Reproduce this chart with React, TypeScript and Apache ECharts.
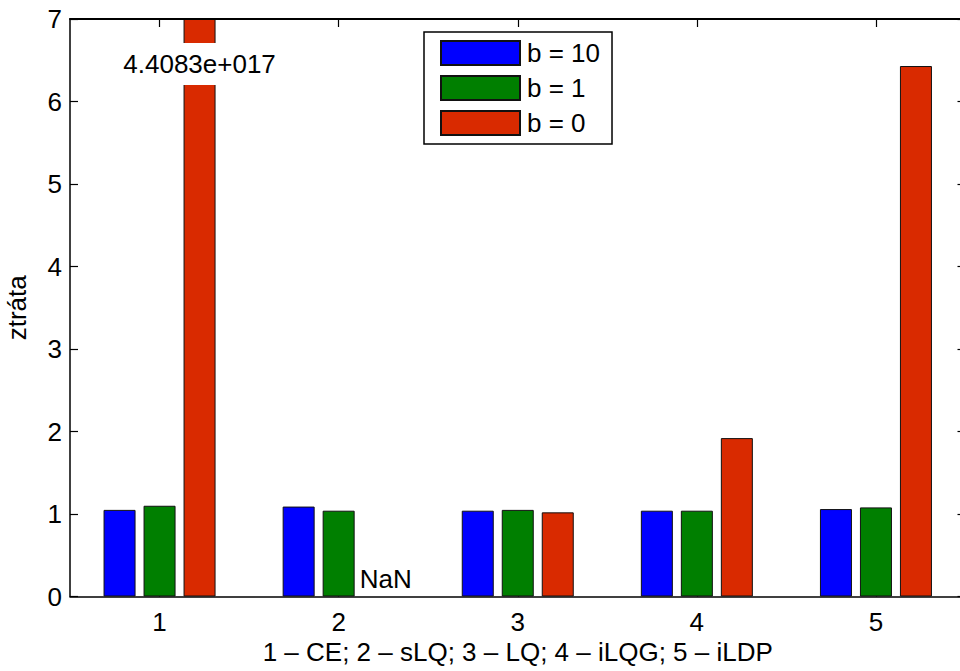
import React, { useEffect, useRef } from "react";
import * as echarts from "echarts";

const categories = ["1", "2", "3", "4", "5"];
const seriesNames = ["b = 10", "b = 1", "b = 0"];
const blueValues = [1.05, 1.09, 1.04, 1.04, 1.06];
const greenValues = [1.1, 1.04, 1.05, 1.04, 1.08];
const redValues: (number | null)[] = [4.4083e17, null, 1.02, 1.92, 6.43];
const redHugeLabel = "4.4083e+017";
const nanLabel = "NaN";
const xAxisTitle = "1 \u2013 CE; 2 \u2013 sLQ; 3 \u2013 LQ; 4 \u2013 iLQG; 5 \u2013 iLDP";
const yAxisTitle = "ztráta";
const yMin = 0;
const yMax = 7;
const colors = ["#0000ff", "#007f00", "#d92a00"];

const FONT = "'Liberation Sans', Arial, Helvetica, sans-serif";
const FS = 26;

export default function App() {
  const ref = useRef<HTMLDivElement>(null);
  useEffect(() => {
    if (!ref.current) return;
    const chart = echarts.init(ref.current, undefined, { renderer: "svg" });

    const redData = redValues.map((v) => {
      if (v === null) {
        return {
          value: 0,
          itemStyle: { color: "transparent", borderWidth: 0 },
          label: {
            show: true,
            formatter: nanLabel,
            position: [-3, -31],
            fontSize: FS,
            fontFamily: FONT,
            color: "#000",
          },
        };
      }
      if (v > yMax) {
        // off-scale value: drawn clipped at the axis maximum
        return {
          value: yMax,
          label: {
            show: true,
            formatter: redHugeLabel,
            position: "insideTop",
            distance: 24,
            backgroundColor: "#fff",
            padding: [6, 4],
            lineHeight: 30,
            fontSize: FS,
            fontFamily: FONT,
            color: "#000",
          },
        };
      }
      return { value: v };
    });

    const barCommon = {
      type: "bar" as const,
      barWidth: 32,
      barGap: "25%",
      itemStyle: { borderColor: "#111", borderWidth: 1 },
      emphasis: { disabled: true },
    };

    chart.setOption({
      animation: false,
      backgroundColor: "#fff",
      textStyle: { fontFamily: FONT },
      grid: {
        left: 70,
        top: 19,
        right: -5.5,
        bottom: 74.5,
        show: false,
        outerBoundsMode: "none",
        containLabel: false,
      },
      legend: {
        orient: "vertical",
        left: 424,
        top: 32,
        itemWidth: 79,
        itemHeight: 24,
        itemGap: 9,
        padding: [8, 12, 8, 16],
        borderColor: "#000",
        borderWidth: 1.5,
        backgroundColor: "#fff",
        icon: "rect",
        textStyle: { fontSize: FS, fontFamily: FONT, color: "#000", padding: [0, 0, 0, 2] },
        data: seriesNames,
        selectedMode: false,
      },
      xAxis: [
        {
          type: "category",
          data: categories,
          position: "bottom",
          axisLine: { show: true, onZero: false, lineStyle: { color: "#000", width: 1.5 } },
          axisTick: { show: true, inside: true, length: 8, alignWithLabel: true, lineStyle: { color: "#000", width: 1.2 } },
          axisLabel: { fontSize: FS, fontFamily: FONT, color: "#000", margin: 12 },
          name: xAxisTitle,
          nameLocation: "middle",
          nameGap: 42,
          nameTextStyle: { fontSize: FS, fontFamily: FONT, color: "#000" },
        },
        {
          type: "category",
          data: categories,
          position: "top",
          z: 10,
          axisLine: { show: true, onZero: false, lineStyle: { color: "#000", width: 2 } },
          axisTick: { show: true, inside: true, length: 8, alignWithLabel: true, lineStyle: { color: "#000", width: 1.2 } },
          axisLabel: { show: false },
        },
      ],
      yAxis: [
        {
          type: "value",
          min: yMin,
          max: yMax,
          interval: 1,
          position: "left",
          splitLine: { show: false },
          axisLine: { show: true, onZero: false, lineStyle: { color: "#000", width: 1.5 } },
          axisTick: { show: true, inside: true, length: 8, lineStyle: { color: "#000", width: 1.2 } },
          axisLabel: { fontSize: FS, fontFamily: FONT, color: "#000", margin: 8 },
          name: yAxisTitle,
          nameLocation: "middle",
          nameGap: 40,
          nameRotate: 90,
          nameTextStyle: { fontSize: FS, fontFamily: FONT, color: "#000" },
        },
        {
          type: "value",
          min: yMin,
          max: yMax,
          interval: 1,
          position: "right",
          splitLine: { show: false },
          axisLine: { show: true, onZero: false, lineStyle: { color: "#000", width: 1.5 } },
          axisTick: { show: true, inside: true, length: 8, lineStyle: { color: "#000", width: 1.2 } },
          axisLabel: { show: false },
        },
      ],
      series: [
        { ...barCommon, name: seriesNames[0], data: blueValues, itemStyle: { ...barCommon.itemStyle, color: colors[0] } },
        { ...barCommon, name: seriesNames[1], data: greenValues, itemStyle: { ...barCommon.itemStyle, color: colors[1] } },
        { ...barCommon, name: seriesNames[2], data: redData, itemStyle: { ...barCommon.itemStyle, color: colors[2] } },
      ],
    });
    return () => chart.dispose();
  }, []);

  return (
    <div
      ref={ref}
      style={{ position: "absolute", left: 0, top: 0, width: 960, height: 671, background: "#fff" }}
    />
  );
}
